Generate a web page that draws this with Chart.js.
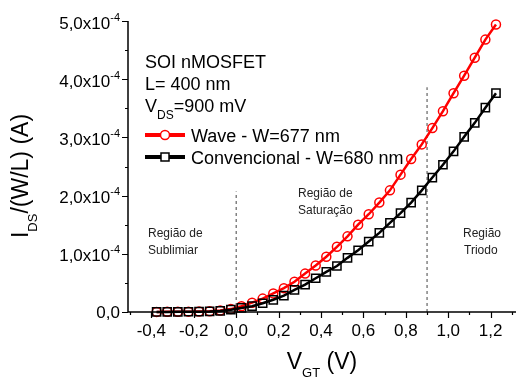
<!DOCTYPE html>
<html>
<head>
<meta charset="utf-8">
<script src="https://cdn.jsdelivr.net/npm/chart.js@4.4.1/dist/chart.umd.min.js"></script>
<style>
  html, body { margin:0; padding:0; background:#fff; }
  #wrap { width:516px; height:383px; }
</style>
</head>
<body>
<div id="wrap"><canvas id="chart" width="516" height="383"></canvas></div>
<script>
'use strict';
// ── I_DS/(W/L) x V_GT ── SOI nMOSFET, Wave vs Convencional ──────────

const vgt = [-0.375, -0.325, -0.275, -0.225, -0.175, -0.125, -0.075, -0.025,
              0.025,  0.075,  0.125,  0.175,  0.225,  0.275,  0.325,  0.375,
              0.425,  0.475,  0.525,  0.575,  0.625,  0.675,  0.725,  0.775,
              0.825,  0.875,  0.925,  0.975,  1.025,  1.075,  1.125,  1.175, 1.225];

// values in units of 1e-4 A
const waveIds = [0.002, 0.003, 0.004, 0.006, 0.009, 0.013, 0.025, 0.05,
                 0.10, 0.16, 0.23, 0.32, 0.41, 0.52, 0.66, 0.80,
                 0.95, 1.12, 1.30, 1.50, 1.68, 1.88, 2.09, 2.36,
                 2.63, 2.88, 3.16, 3.45, 3.76, 4.06, 4.37, 4.68, 4.94];
const convIds = [0.001, 0.002, 0.003, 0.004, 0.006, 0.009, 0.018, 0.04,
                 0.07, 0.10, 0.15, 0.21, 0.28, 0.38, 0.47, 0.58,
                 0.69, 0.79, 0.93, 1.06, 1.21, 1.36, 1.53, 1.70,
                 1.88, 2.09, 2.31, 2.53, 2.76, 3.01, 3.25, 3.51, 3.76];

const xTicks    = [-0.4, -0.2, 0.0, 0.2, 0.4, 0.6, 0.8, 1.0, 1.2];
const xTickText = ['-0,4', '-0,2', '0,0', '0,2', '0,4', '0,6', '0,8', '1,0', '1,2'];
const yTicks    = [0, 1e-4, 2e-4, 3e-4, 4e-4, 5e-4];
const yTickText = ['0,0', '1,0x10', '2,0x10', '3,0x10', '4,0x10', '5,0x10'];
const yTickExp  = '-4';

// region boundaries (dashed)
const satStart = [{ x: 0.0, y: 0 }, { x: 0.0, y: 2.07e-4 }];
const triStart = [{ x: 0.9, y: 0 }, { x: 0.9, y: 3.86e-4 }];

const FONT = '"Liberation Sans", Arial, Helvetica, sans-serif';

function run(ctx, parts, x, y, align) {
  // parts: [text, size, dy]
  let w = 0;
  parts.forEach(p => { ctx.font = p[1] + 'px ' + FONT; w += ctx.measureText(p[0]).width; });
  let cx = align === 'right' ? x - w : align === 'center' ? x - w / 2 : x;
  parts.forEach(p => {
    ctx.font = p[1] + 'px ' + FONT;
    ctx.fillText(p[0], cx, y + (p[2] || 0));
    cx += ctx.measureText(p[0]).width;
  });
}

const decor = {
  id: 'decor',
  afterDatasetsDraw(chart) {
    const { ctx, chartArea: a, scales: { x, y } } = chart;
    ctx.save();
    ctx.fillStyle = '#000';
    ctx.strokeStyle = '#000';
    ctx.textAlign = 'left';
    ctx.textBaseline = 'alphabetic';

    // axes
    ctx.lineWidth = 1.5;
    ctx.beginPath();
    ctx.moveTo(a.left, a.top);
    ctx.lineTo(a.left, a.bottom);
    ctx.lineTo(516, a.bottom);
    ctx.stroke();

    // ticks (major + minor)
    ctx.lineWidth = 1.2;
    ctx.beginPath();
    for (let v = -0.5; v <= 1.3; v += 0.1) {
      const px = Math.round(x.getPixelForValue(v)) + 0.5;
      if (px < a.left || px > 516) continue;
      const major = Math.abs(Math.round(v * 10) % 2) === 0;
      ctx.moveTo(px, a.bottom);
      ctx.lineTo(px, a.bottom + (major ? 6 : 3));
    }
    for (let k = 0; k <= 10; k++) {
      const py = Math.round(y.getPixelForValue(k * 0.5e-4)) + 0.5;
      ctx.moveTo(a.left, py);
      ctx.lineTo(a.left - (k % 2 === 0 ? 6 : 3), py);
    }
    ctx.stroke();

    // tick labels
    xTicks.forEach((v, i) => run(ctx, [[xTickText[i], 17]], x.getPixelForValue(v), a.bottom + 24, 'center'));
    yTicks.forEach((v, i) => {
      const py = y.getPixelForValue(v);
      if (i === 0) run(ctx, [[yTickText[i], 17]], a.left - 8, py + 6, 'right');
      else run(ctx, [[yTickText[i], 17], [yTickExp, 11, -8]], a.left - 8, py + 7.5, 'right');
    });

    // axis titles
    run(ctx, [['V', 23], ['GT', 13, 8], [' (V)', 23]], 322, 369, 'center');
    ctx.save();
    ctx.translate(28, 176);
    ctx.rotate(-Math.PI / 2);
    run(ctx, [['I', 23], ['DS', 13, 9], ['/(W/L) (A)', 23]], 0, 0, 'center');
    ctx.restore();

    // device info
    run(ctx, [['SOI nMOSFET', 18]], 145, 68);
    run(ctx, [['L= 400 nm', 18]], 145, 90);
    run(ctx, [['V', 18], ['DS', 12, 7], ['=900 mV', 18]], 145, 112);

    // legend
    const leg = [
      { y: 135, color: '#ff0000', style: 'circle', label: 'Wave - W=677 nm' },
      { y: 157, color: '#000000', style: 'rect',   label: 'Convencional - W=680 nm' },
    ];
    leg.forEach(l => {
      ctx.strokeStyle = l.color;
      ctx.lineWidth = 4;
      ctx.beginPath();
      ctx.moveTo(145, l.y);
      ctx.lineTo(185, l.y);
      ctx.stroke();
      ctx.lineWidth = 1.5;
      ctx.fillStyle = '#fff';
      ctx.beginPath();
      if (l.style === 'circle') ctx.arc(165, l.y, 4.5, 0, Math.PI * 2);
      else ctx.rect(161, l.y - 4, 8, 8);
      ctx.fill();
      ctx.stroke();
      ctx.fillStyle = '#000';
      run(ctx, [[l.label, 18]], 191, l.y + 6.5);
    });

    // region labels
    ctx.fillStyle = '#222';
    run(ctx, [['Região de', 12]], 148, 237);
    run(ctx, [['Sublimiar', 12]], 148, 254);
    run(ctx, [['Região de', 12]], 298, 197);
    run(ctx, [['Saturação', 12]], 298, 214);
    run(ctx, [['Região', 12]], 463, 237);
    run(ctx, [['Triodo', 12]], 464, 254);

    ctx.restore();
  },
};

const scale1e4 = v => v * 1e-4;

new Chart(document.getElementById('chart'), {
  type: 'line',
  data: {
    datasets: [
      {
        label: 'Convencional - W=680 nm',
        data: vgt.map((v, i) => ({ x: v, y: scale1e4(convIds[i]) })),
        borderColor: '#000', borderWidth: 2.5,
        pointStyle: 'rect', pointRadius: 5.8, pointBorderWidth: 1.5,
        pointBorderColor: '#000', pointBackgroundColor: 'rgba(0,0,0,0)',
        tension: 0, clip: false, order: 0,
      },
      {
        label: 'Wave - W=677 nm',
        data: vgt.map((v, i) => ({ x: v, y: scale1e4(waveIds[i]) })),
        borderColor: '#ff0000', borderWidth: 2.5,
        pointStyle: 'circle', pointRadius: 4.5, pointBorderWidth: 1.5,
        pointBorderColor: '#ff0000', pointBackgroundColor: 'rgba(0,0,0,0)',
        tension: 0, clip: false, order: 1,
      },
      {
        data: satStart, borderColor: '#444', borderWidth: 1, borderDash: [3, 3],
        pointRadius: 0, order: 2,
      },
      {
        data: triStart, borderColor: '#444', borderWidth: 1, borderDash: [3, 3],
        pointRadius: 0, order: 2,
      },
    ],
  },
  options: {
    responsive: false,
    devicePixelRatio: 1,
    animation: false,
    events: [],
    layout: { padding: { left: 128, top: 21, right: 1, bottom: 71 } },
    plugins: { legend: { display: false }, tooltip: { enabled: false } },
    scales: {
      x: { type: 'linear', min: -0.51, max: 1.285, display: false },
      y: { type: 'linear', min: 0, max: 5e-4, display: false },
    },
  },
  plugins: [decor],
});
</script>
</body>
</html>
